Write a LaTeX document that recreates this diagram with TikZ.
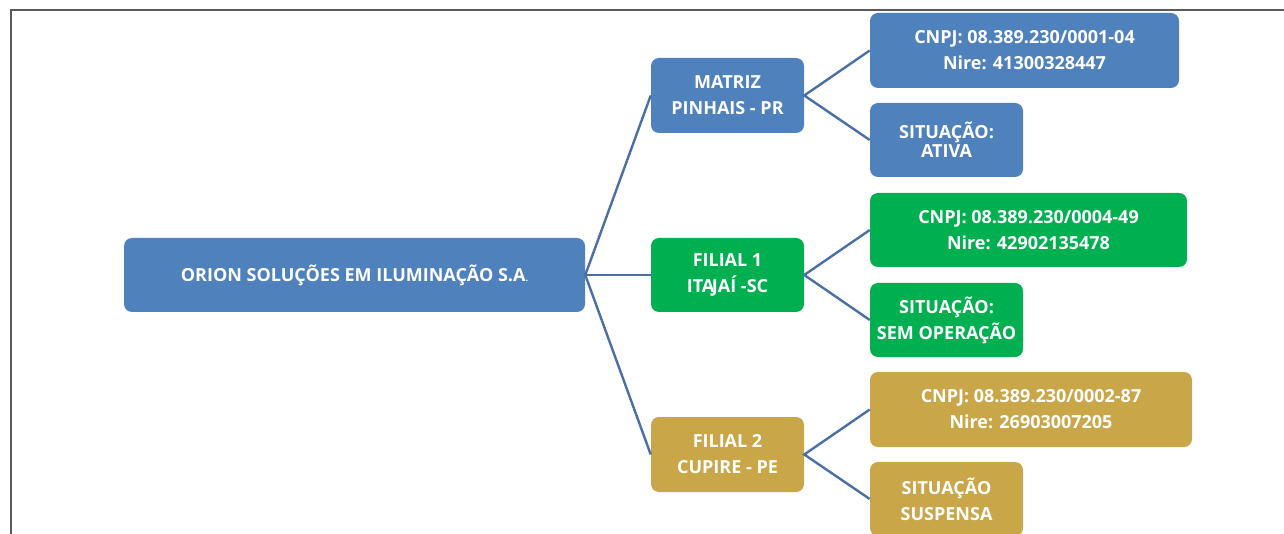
\documentclass[tikz,border=0pt]{standalone}
\usepackage{fontspec}
\setmainfont{Open Sans}
\definecolor{cblue}{HTML}{4F81BD}
\definecolor{cgreen}{HTML}{00B050}
\definecolor{cgold}{HTML}{C9A748}
\definecolor{cline}{HTML}{4A6FA5}
\definecolor{cframe}{HTML}{5A5A5A}
\begin{document}
\begin{tikzpicture}[x=0.75pt,y=-0.75pt,
  box/.style={rounded corners=6pt, text=white, font=\fontsize{13.5}{19.4}\selectfont\bfseries, align=center, inner sep=0pt},
  conn/.style={draw=cline, line width=1.8pt},
  frame/.style={draw=cframe, line width=1.5pt}]
\useasboundingbox (0,0) rectangle (1284,534);
\draw[frame] (11,534) -- (11,10.5) -- (1284,10.5);
\node[box, fill=cblue, minimum width=461*0.75pt, minimum height=74*0.75pt] (root) at (354.5,275) {ORION SOLUÇÕES EM ILUMINAÇÃO S.A{\fontsize{7}{7}\selectfont .}};
\node[box, fill=cblue, minimum width=153*0.75pt, minimum height=75*0.75pt] (matriz) at (727.5,95.5) {MATRIZ\\PINHAIS - PR};
\node[box, fill=cgreen, minimum width=153*0.75pt, minimum height=74*0.75pt] (fil1) at (727.5,275) {FILIAL 1\\ITA\kern-1.8pt JAÍ -SC};
\node[box, fill=cgold, minimum width=153*0.75pt, minimum height=75*0.75pt] (fil2) at (727.5,454.5) {FILIAL 2\\CUPIRE - PE};
\node[box, fill=cblue, minimum width=309*0.75pt, minimum height=75*0.75pt] (cnpj1) at (1024.5,50.5) {CNPJ: 08.389.230/0001-04\\Nire: 41300328447};
\node[box, fill=cblue, minimum width=153*0.75pt, minimum height=74*0.75pt] (sit1) at (946.5,140) {SITUAÇÃO:\\[-5pt]ATIVA};
\node[box, fill=cgreen, minimum width=317*0.75pt, minimum height=74*0.75pt] (cnpj2) at (1028.5,230) {CNPJ: 08.389.230/0004-49\\Nire: 42902135478};
\node[box, fill=cgreen, minimum width=153*0.75pt, minimum height=74*0.75pt] (sit2) at (946.5,320) {SITUAÇÃO:\\SEM OPERAÇÃO};
\node[box, fill=cgold, minimum width=322*0.75pt, minimum height=75*0.75pt] (cnpj3) at (1031,409.5) {CNPJ: 08.389.230/0002-87\\Nire: 26903007205};
\node[box, fill=cgold, minimum width=153*0.75pt, minimum height=74*0.75pt] (sit3) at (946.5,499) {SITUAÇÃO\\SUSPENSA};
\draw[conn] (matriz.west) -- (root.east) -- (fil2.west);
\draw[conn] (root.east) -- (fil1.west);
\draw[conn] (cnpj1.west) -- (matriz.east) -- (sit1.west);
\draw[conn] (cnpj2.west) -- (fil1.east) -- (sit2.west);
\draw[conn] (cnpj3.west) -- (fil2.east) -- (sit3.west);
\end{tikzpicture}
\end{document}
